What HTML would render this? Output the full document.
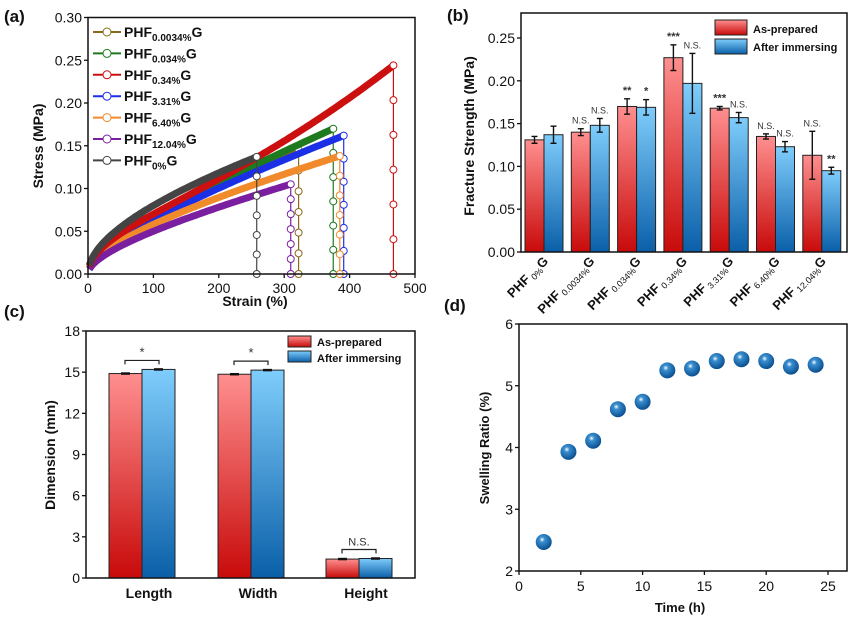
<!DOCTYPE html><html><head><style>body{margin:0;background:#fff}svg{display:block;font-family:"Liberation Sans",Arial,sans-serif}</style></head><body>
<svg id="s" width="856" height="620" viewBox="0 0 856 620" xmlns="http://www.w3.org/2000/svg">
<defs>
<linearGradient id="gr" x1="0" y1="0" x2="0" y2="1"><stop offset="0" stop-color="#ff8f8f"/><stop offset="1" stop-color="#c80a0a"/></linearGradient>
<linearGradient id="gb" x1="0" y1="0" x2="0" y2="1"><stop offset="0" stop-color="#7fcdfc"/><stop offset="1" stop-color="#0a5fa8"/></linearGradient>
<radialGradient id="ball" cx="0.4" cy="0.35" r="0.65"><stop offset="0" stop-color="#fff"/><stop offset="0.25" stop-color="#3a8fd0"/><stop offset="1" stop-color="#0a4f90"/></radialGradient>
</defs>
<g id="g"></g>
</svg>
<script>
var S=document.getElementById('g'),h='';
function t(x,y,s,o){o=o||{};h+='<text x="'+x+'" y="'+y+'" font-size="'+(o.fs||14)+'" '+(o.b?'font-weight="bold" ':'')+'text-anchor="'+(o.a||'middle')+'" '+(o.tr?'transform="'+o.tr+'" ':'')+'fill="'+(o.c||'#111')+'">'+s+'</text>';}
function l(a,b,c,d,w,col){h+='<line x1="'+a+'" y1="'+b+'" x2="'+c+'" y2="'+d+'" stroke="'+(col||'#111')+'" stroke-width="'+(w||1.3)+'"/>';}
// ---- (a)
var ax0=88,ax1=415,ay0=274,ay1=17.5;function X(v){return ax0+v*(ax1-ax0)/500}function Y(v){return ay0-v*(ay0-ay1)/0.3}
var cur=[["#8a6a1a",.0045,.0002,322,0],["#1e7a1e",.00407,.000243,375,0],["#1a2fe6",.00437,.000193,391,0],["#f08a2a",.00452,.000128,385,0],["#7a1fa0",.00373,.000127,310,0],["#cc1010",.00653,0,467,4.72e-7],["#444",.00713,.0000873,258,0]];
function F(c,x){return c[1]*Math.sqrt(x)+c[2]*x+c[4]*x*x;}
cur.forEach(function(c){var p='';for(var x=2;x<=c[3];x+=3){var s=F(c,x);p+=X(x).toFixed(1)+','+Y(s).toFixed(1)+' ';}
h+='<polyline points="'+p+'" fill="none" stroke="'+c[0]+'" stroke-width="7"/>';
var e=F(c,c[3]);l(X(c[3]),Y(e),X(c[3]),Y(0),1.2,c[0]);
for(var k=0;k<=6;k++){h+='<circle cx="'+X(c[3])+'" cy="'+Y(e*k/6)+'" r="3.5" fill="#fff" stroke="'+c[0]+'" stroke-width="1"/>';}});
h+='<rect x="'+ax0+'" y="'+ay1+'" width="'+(ax1-ax0)+'" height="'+(ay0-ay1)+'" fill="none" stroke="#111" stroke-width="1.5"/>';
for(var i=0;i<=6;i++){var v=i*0.05,y=Y(v);l(ax0-4,y,ax0,y);t(ax0-6,y+5,v.toFixed(2),{a:'end',fs:14});}
for(i=0;i<=5;i++){var x=X(i*100);l(x,ay0,x,ay0+4);t(x,ay0+19,i*100,{fs:14});}
t(255,306,'Strain (%)',{b:1,fs:14});t(43,146,'Stress (MPa)',{b:1,fs:14,tr:'rotate(-90 43 146)'});t(4,22,'(a)',{b:1,fs:17,a:'start'});
var lg=[["#8a6a1a","0.0034%"],["#1e7a1e","0.034%"],["#cc1010","0.34%"],["#1a2fe6","3.31%"],["#f08a2a","6.40%"],["#7a1fa0","12.04%"],["#444","0%"]];
lg.forEach(function(c,i){var y=32+i*21.4;l(93,y,121,y,2,c[0]);h+='<circle cx="107" cy="'+y+'" r="4" fill="#fff" stroke="'+c[0]+'"/>';
h+='<text x="124" y="'+(y+5)+'" font-size="14" font-weight="bold" fill="#111">PHF<tspan font-size="10" dy="4">'+c[1]+'</tspan><tspan dy="-4">G</tspan></text>';});
// ---- (b)
var bx0=521,bx1=847,by0=252;function YB(v){return by0-v*(214/0.25)}
var R=[.131,.140,.170,.227,.168,.135,.113],B=[.137,.148,.169,.197,.157,.123,.095],RE=[.004,.004,.009,.015,.002,.003,.028],BE=[.01,.008,.009,.035,.006,.006,.004];
var RS=['','N.S.','**','***','***','N.S.','N.S.'],BS=['','N.S.','*','N.S.','N.S.','N.S.','**'];
var SUB=['0%','0.0034%','0.034%','0.34%','3.31%','6.40%','12.04%'];
for(i=0;i<7;i++){var rx=525+i*46.3,bxx=rx+19;
h+='<rect x="'+rx+'" y="'+YB(R[i])+'" width="19" height="'+(by0-YB(R[i]))+'" fill="url(#gr)" stroke="#222" stroke-width="1"/>';
h+='<rect x="'+bxx+'" y="'+YB(B[i])+'" width="19" height="'+(by0-YB(B[i]))+'" fill="url(#gb)" stroke="#222" stroke-width="1"/>';
[[rx+9.5,R[i],RE[i],RS[i]],[bxx+9.5,B[i],BE[i],BS[i]]].forEach(function(q){var a=YB(q[1]+q[2]),b=YB(q[1]-q[2]);l(q[0],a,q[0],b,1.4);l(q[0]-3,a,q[0]+3,a,1.4);l(q[0]-3,b,q[0]+3,b,1.4);
if(q[3])t(q[0],a-5,q[3],{fs:q[3][0]=='N'?9:11,c:'#333',b:q[3][0]!='N'});});
var cx=rx+24,cy=262;h+='<text x="'+cx+'" y="'+cy+'" font-size="13" font-weight="bold" text-anchor="end" transform="rotate(-45 '+cx+' '+cy+')" fill="#111">PHF<tspan font-size="9" dy="3" font-weight="normal"> '+SUB[i]+'</tspan><tspan dy="-3">G</tspan></text>';}
h+='<rect x="'+bx0+'" y="13" width="'+(bx1-bx0)+'" height="'+(by0-13)+'" fill="none" stroke="#111" stroke-width="1.5"/>';
for(i=0;i<=5;i++){v=i*0.05;y=YB(v);l(bx0-4,y,bx0,y);t(bx0-6,y+5,v.toFixed(2),{a:'end',fs:14});}
t(474,136,'Fracture Strength (MPa)',{b:1,fs:14,tr:'rotate(-90 474 136)'});t(447,21,'(b)',{b:1,fs:17,a:'start'});
h+='<rect x="715" y="20" width="32" height="15" fill="url(#gr)" stroke="#222"/><rect x="715" y="39" width="32" height="15" fill="url(#gb)" stroke="#222"/>';
t(753,33,'As-prepared',{b:1,fs:11,a:'start'});t(753,51,'After immersing',{b:1,fs:11,a:'start'});
// ---- (c)
var cy0=578;function YC(v){return cy0-v*(247/18)}
var C=[[109,14.9,15.2,'Length','*'],[218,14.85,15.15,'Width','*'],[326,1.38,1.42,'Height','N.S.']];
C.forEach(function(c){h+='<rect x="'+c[0]+'" y="'+YC(c[1])+'" width="33" height="'+(cy0-YC(c[1]))+'" fill="url(#gr)" stroke="#222"/>';
h+='<rect x="'+(c[0]+33)+'" y="'+YC(c[2])+'" width="33" height="'+(cy0-YC(c[2]))+'" fill="url(#gb)" stroke="#222"/>';
l(c[0]+12,YC(c[1]),c[0]+21,YC(c[1]),2.5);l(c[0]+45,YC(c[2]),c[0]+54,YC(c[2]),2.5);
var by=YC(c[2])-9;h+='<polyline points="'+(c[0]+16)+','+(by+4)+' '+(c[0]+16)+','+by+' '+(c[0]+50)+','+by+' '+(c[0]+50)+','+(by+4)+'" fill="none" stroke="#222" stroke-width="1.2"/>';
t(c[0]+33,by-4,c[4],{fs:c[4]=='*'?13:11,c:'#333'});t(c[0]+40,598,c[3],{b:1,fs:14});});
h+='<rect x="86" y="331" width="329" height="247" fill="none" stroke="#111" stroke-width="1.5"/>';
for(i=0;i<=6;i++){y=YC(i*3);l(82,y,86,y);t(80,y+5,i*3,{a:'end',fs:14});}
t(55,455,'Dimension (mm)',{b:1,fs:14,tr:'rotate(-90 55 455)'});t(4,317,'(c)',{b:1,fs:17,a:'start'});
h+='<rect x="288" y="336" width="23" height="11" fill="url(#gr)" stroke="#222"/><rect x="288" y="351" width="23" height="11" fill="url(#gb)" stroke="#222"/>';
t(317,346,'As-prepared',{b:1,fs:11,a:'start'});t(317,362,'After immersing',{b:1,fs:11,a:'start'});
// ---- (d)
function XD(v){return 519+v*(309/25)}function YD(v){return 571-(v-2)*61.75}
h+='<rect x="519" y="324" width="328" height="247" fill="none" stroke="#111" stroke-width="1.5"/>';
for(i=2;i<=6;i++){y=YD(i);l(515,y,519,y);t(513,y+5,i,{a:'end',fs:14});}
for(i=0;i<=5;i++){x=XD(i*5);l(x,571,x,575);t(x,591,i*5,{fs:14});}
t(680,612,'Time (h)',{b:1,fs:13});t(489,448,'Swelling Ratio (%)',{b:1,fs:13,tr:'rotate(-90 489 448)'});t(444,311,'(d)',{b:1,fs:17,a:'start'});
[2.47,3.93,4.11,4.62,4.74,5.25,5.28,5.40,5.43,5.40,5.31,5.34].forEach(function(v,i){h+='<circle cx="'+XD(2+2*i)+'" cy="'+YD(v)+'" r="8" fill="url(#ball)"/>';});
S.innerHTML=h;
</script>
</body></html>
